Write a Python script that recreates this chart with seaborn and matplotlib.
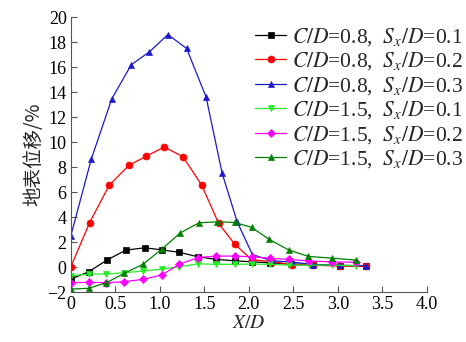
import numpy as np
import pandas as pd
import seaborn as sns
import matplotlib.pyplot as plt
import matplotlib.ticker as mticker

# 数据
labels = [
    "$C/D$=0.8,  $S_x/D$=0.1",
    "$C/D$=0.8,  $S_x/D$=0.2",
    "$C/D$=0.8,  $S_x/D$=0.3",
    "$C/D$=1.5,  $S_x/D$=0.1",
    "$C/D$=1.5,  $S_x/D$=0.2",
    "$C/D$=1.5,  $S_x/D$=0.3",
]

x_08_01 = [0, 0.2, 0.41, 0.62, 0.83, 1.02, 1.22, 1.43, 1.63, 1.84, 2.04, 2.24, 2.47, 2.72, 3.02, 3.32]
y_08_01 = [-0.96, -0.38, 0.58, 1.36, 1.54, 1.38, 1.18, 0.82, 0.62, 0.5, 0.42, 0.34, 0.24, 0.22, 0.12, 0.05]

x_08_02 = [0, 0.21, 0.43, 0.65, 0.85, 1.05, 1.26, 1.47, 1.66, 1.84, 2.03, 2.26, 2.49, 2.72, 3.02, 3.32]
y_08_02 = [0.02, 3.54, 6.53, 8.13, 8.88, 9.6, 8.83, 6.56, 3.5, 1.84, 0.6, 0.42, 0.2, 0.15, 0.08, 0.05]

x_08_03 = [0, 0.23, 0.46, 0.68, 0.88, 1.09, 1.30, 1.52, 1.70, 1.87, 2.04, 2.26, 2.49, 2.72, 3.02, 3.32]
y_08_03 = [2.5, 8.64, 13.46, 16.2, 17.2, 18.6, 17.5, 13.6, 7.5, 3.6, 1.0, 0.5, 0.4, 0.2, 0.15, 0.1]

x_15_01 = [0, 0.2, 0.4, 0.6, 0.81, 1.02, 1.22, 1.43, 1.63, 1.84, 2.04, 2.24, 2.45, 2.68, 2.93, 3.2]
y_15_01 = [-0.7, -0.56, -0.56, -0.45, -0.32, -0.16, 0.02, 0.26, 0.22, 0.22, 0.24, 0.22, 0.16, 0.16, 0.16, 0.1]

x_15_02 = [0, 0.2, 0.4, 0.6, 0.81, 1.02, 1.22, 1.43, 1.63, 1.84, 2.04, 2.24, 2.45, 2.68, 2.93, 3.2]
y_15_02 = [-1.25, -1.22, -1.25, -1.17, -0.98, -0.64, 0.24, 0.76, 0.88, 0.88, 0.82, 0.7, 0.62, 0.48, 0.42, 0.38]

x_15_03 = [0, 0.2, 0.4, 0.6, 0.81, 1.02, 1.23, 1.44, 1.64, 1.84, 2.03, 2.23, 2.45, 2.67, 2.93, 3.2]
y_15_03 = [-1.76, -1.7, -1.25, -0.5, 0.22, 1.42, 2.74, 3.54, 3.62, 3.57, 3.18, 2.21, 1.36, 0.85, 0.72, 0.56]

xs = [x_08_01, x_08_02, x_08_03, x_15_01, x_15_02, x_15_03]
ys = [y_08_01, y_08_02, y_08_03, y_15_01, y_15_02, y_15_03]
colors = ["black", "#ff0000", "#1a1acc", "#22ee22", "#ff00ff", "#008000"]
markers = ["s", "o", "^", "v", "D", "^"]

x_ticks = [0, 0.5, 1.0, 1.5, 2.0, 2.5, 3.0, 3.5, 4.0]
x_ticklabels = ["0", "0.5", "1.0", "1.5", "2.0", "2.5", "3.0", "3.5", "4.0"]
y_ticks = list(range(-2, 21, 2))

sns.set_theme(style="ticks")
plt.rcParams["font.family"] = ["Liberation Serif", "Noto Sans CJK SC"]
plt.rcParams["mathtext.fontset"] = "stix"

fig = plt.figure(figsize=(4.66, 3.42), dpi=100)
ax = fig.add_axes([0.152, 0.146, 0.764, 0.804])

for x, y, lab, c, m in zip(xs, ys, labels, colors, markers):
    df = pd.DataFrame({"x": x, "y": y})
    ms = 4.2 if m == "D" else 5.0
    sns.lineplot(data=df, x="x", y="y", ax=ax, color=c, marker=m, markersize=ms,
                 markeredgecolor=c, markeredgewidth=0.5, linewidth=0.9,
                 label=lab, sort=False)

ax.set_xlim(0, 4.0)
ax.set_ylim(-2, 20)
ax.set_xticks(x_ticks)
ax.xaxis.set_major_formatter(mticker.FixedFormatter(x_ticklabels))
ax.set_yticks(y_ticks)
ax.tick_params(direction="in", length=4, width=0.8, colors="#555555",
               labelcolor="black", labelsize=13, pad=3)
for s in ["left", "bottom"]:
    ax.spines[s].set_color("#555555")
    ax.spines[s].set_linewidth(0.8)
sns.despine(ax=ax)

ax.set_xlabel("$X/D$", fontsize=14, labelpad=1)
ax.set_ylabel("地表位移/%", fontsize=14, family=["Noto Sans CJK SC"], labelpad=2)

ax.legend(loc="upper right", bbox_to_anchor=(1.125, 1.0), frameon=False, fontsize=15.5,
          handlelength=1.45, handletextpad=0.25, labelspacing=0.12, borderaxespad=0.0)

fig.savefig("out.png", dpi=100)
